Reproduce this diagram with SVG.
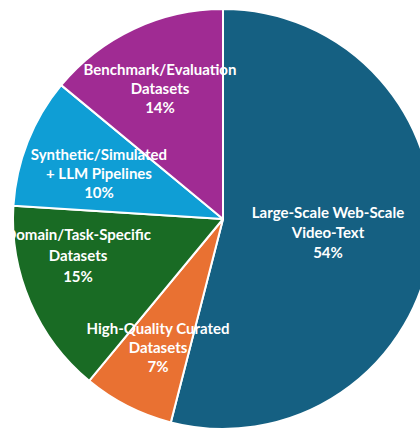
<svg xmlns="http://www.w3.org/2000/svg" width="420" height="430" viewBox="0 0 420 430">
<style>
.s{stroke:#fff;stroke-width:2;stroke-linejoin:round}
.t{font-family:Lato,"Liberation Sans",sans-serif;font-weight:700;font-size:15px;fill:#fff;text-anchor:middle}
</style>
<rect width="420" height="430" fill="#fff"/>
<g id="slice-large-scale">
<path class="s" fill="#156082" d="M223,219 L223,9 A210,210 0 1 1 170.78,422.4 Z"/>
<text class="t" x="328" y="218">Large-Scale Web-Scale</text>
<text class="t" x="328" y="238">Video-Text</text>
<text class="t" x="328" y="258">54%</text>
</g>
<g id="slice-high-quality">
<path class="s" fill="#E97132" d="M223,219 L170.78,422.4 A210,210 0 0 1 89.14,380.81 Z"/>
</g>
<g id="slice-domain">
<path class="s" fill="#196B24" d="M223,219 L89.14,380.81 A210,210 0 0 1 13.41,205.81 Z"/>
</g>
<g id="slice-synthetic">
<path class="s" fill="#0F9ED5" d="M223,219 L13.41,205.81 A210,210 0 0 1 61.19,85.14 Z"/>
</g>
<g id="slice-benchmark">
<path class="s" fill="#A02B93" d="M223,219 L61.19,85.14 A210,210 0 0 1 223,9 Z"/>
</g>
<g id="labels">
<text class="t" x="160" y="75">Benchmark/Evaluation</text>
<text class="t" x="160" y="94">Datasets</text>
<text class="t" x="160" y="113">14%</text>
<text class="t" x="99" y="160">Synthetic/Simulated</text>
<text class="t" x="99" y="179">+ LLM Pipelines</text>
<text class="t" x="99" y="198">10%</text>
<text class="t" x="78" y="240">Domain/Task-Specific</text>
<text class="t" x="78" y="261">Datasets</text>
<text class="t" x="78" y="282">15%</text>
<text class="t" x="158" y="334">High-Quality Curated</text>
<text class="t" x="158" y="353">Datasets</text>
<text class="t" x="158" y="372">7%</text>
</g>
</svg>
